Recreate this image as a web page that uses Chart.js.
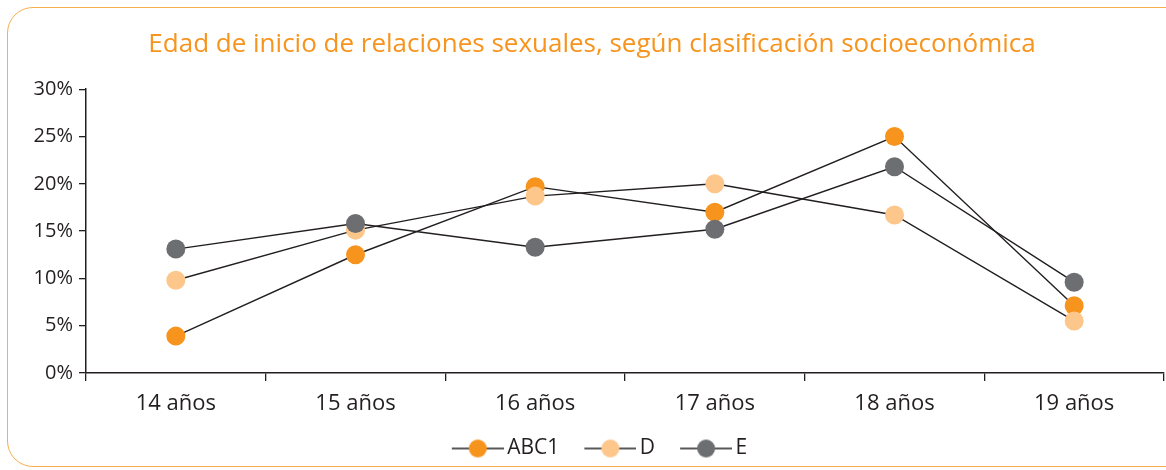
<!DOCTYPE html>
<html>
<head>
<meta charset="utf-8">
<script src="https://cdn.jsdelivr.net/npm/chart.js@4/dist/chart.umd.min.js"></script>
<style>
  html, body { margin: 0; padding: 0; background: #fff; }
  #wrap { position: relative; width: 1166px; height: 470px; overflow: hidden; }
  #frame { position: absolute; left: 7px; top: 7px; width: 1190px; height: 460px;
           border: 1.5px solid #f8ae4f; border-radius: 26px; box-sizing: border-box; }
  #c { position: absolute; left: 0; top: 0; }
</style>
</head>
<body>
<div id="wrap">
  <div id="frame"></div>
  <canvas id="c" width="1166" height="470"></canvas>
</div>
<script>
const titleText = 'Edad de inicio de relaciones sexuales, según clasificación socioeconómica';
const categories = ['14 años', '15 años', '16 años', '17 años', '18 años', '19 años'];
const seriesNames = ['ABC1', 'D', 'E'];
const abc1Values = [3.9, 12.5, 19.7, 17.0, 25.0, 7.1];
const dValues = [9.8, 15.1, 18.7, 20.0, 16.7, 5.5];
const eValues = [13.1, 15.8, 13.3, 15.2, 21.8, 9.6];
const yTicks = [0, 5, 10, 15, 20, 25, 30];

const colors = { ABC1: '#f7941d', D: '#fdc68a', E: '#6d6e71' };
const lineColor = '#231f20';
const textColor = '#231f20';
const FONT = "'Open Sans', 'Liberation Sans', sans-serif";

function legendSymbol(fill) {
  const cv = document.createElement('canvas');
  cv.width = 74; cv.height = 20;
  const g = cv.getContext('2d');
  g.strokeStyle = lineColor; g.lineWidth = 1.3;
  g.beginPath(); g.moveTo(22, 10); g.lineTo(74, 10); g.stroke();
  g.fillStyle = fill;
  g.beginPath(); g.arc(48, 10, 9, 0, Math.PI * 2); g.fill();
  return cv;
}

function ds(name, values) {
  return {
    label: name,
    data: values,
    borderColor: lineColor,
    borderWidth: 1.4,
    pointBackgroundColor: colors[name],
    pointBorderColor: colors[name],
    pointBorderWidth: 0,
    pointRadius: 9.5,
    pointHoverRadius: 9.5,
    tension: 0,
    fill: false,
    pointStyle: 'circle',
    legendStyle: legendSymbol(colors[name])
  };
}

// E first so it is drawn on top; legend reversed to read ABC1, D, E
const datasets = [ds('E', eValues), ds('D', dValues), ds('ABC1', abc1Values)];

new Chart(document.getElementById('c'), {
  type: 'line',
  data: { labels: categories, datasets },
  options: {
    responsive: false,
    animation: false,
    events: [],
    layout: { autoPadding: false, padding: { left: 20, right: 2, top: 0, bottom: 1 } },
    plugins: {
      title: {
        display: true,
        text: titleText,
        color: '#f7941d',
        font: { family: FONT, size: 26, weight: 'normal', lineHeight: 1.2 },
        padding: { top: 29, bottom: 29 }
      },
      legend: {
        position: 'bottom',
        reverse: true,
        labels: {
          usePointStyle: true,
          pointStyleWidth: 60,
          padding: 10,
          color: textColor,
          font: { family: FONT, size: 21 },
          generateLabels(chart) {
            const items = Chart.defaults.plugins.legend.labels.generateLabels(chart);
            items.forEach(it => {
              it.pointStyle = chart.data.datasets[it.datasetIndex].legendStyle;
            });
            return items;
          }
        }
      },
      tooltip: { enabled: false }
    },
    scales: {
      x: {
        type: 'category',
        offset: true,
        grid: { offset: true, drawOnChartArea: false, drawTicks: true, tickLength: 8, color: lineColor, lineWidth: 1.3 },
        border: { display: true, color: lineColor, width: 1.5 },
        ticks: { color: textColor, font: { family: FONT, size: 22 }, padding: 10, maxRotation: 0 },
        afterFit(scale) { scale.height = 55; }
      },
      y: {
        min: 0,
        max: 30,
        afterBuildTicks(scale) { scale.ticks = yTicks.map(v => ({ value: v })); },
        grid: { drawOnChartArea: false, drawTicks: true, tickLength: 7, color: lineColor, lineWidth: 1.3 },
        border: { display: true, color: lineColor, width: 1.5 },
        ticks: { color: textColor, font: { family: FONT, size: 20 }, padding: 6,
                 callback: v => v + '%' },
        afterFit(scale) { scale.width = 66; }
      }
    }
  }
});
</script>
</body>
</html>
